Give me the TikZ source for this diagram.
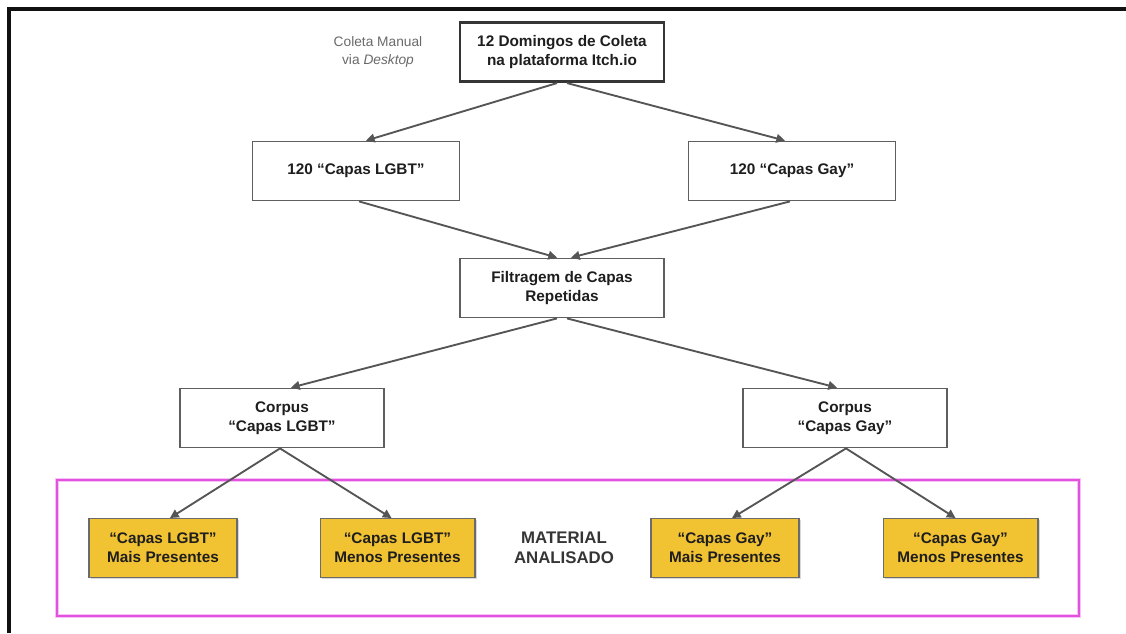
\documentclass[tikz,border=0pt]{standalone}
\usepackage{fontspec}
\setmainfont{Liberation Sans}
\usetikzlibrary{arrows.meta,calc,shadows}

\definecolor{framek}{HTML}{111111}
\definecolor{edgegray}{HTML}{5E5E5E}
\definecolor{linkgray}{HTML}{555555}
\definecolor{txtdark}{HTML}{1E1E1E}
\definecolor{notegray}{HTML}{6A6A6A}
\definecolor{capyellow}{HTML}{F1C232}
\definecolor{capedge}{HTML}{6B6B6B}
\definecolor{selmagenta}{RGB}{226,82,222}

\tikzset{
  boxtxt/.style={font=\fontsize{11.5}{14.2}\selectfont\bfseries, text=txtdark, align=center},
  stepbox/.style={boxtxt, draw=edgegray, line width=1.1pt, fill=white, inner sep=0pt,
                  minimum width=153pt, minimum height=44.5pt},
  headbox/.style={stepbox, draw=framek!85, line width=2.1pt},
  capbox/.style={boxtxt, draw=capedge, line width=1pt, fill=capyellow, inner sep=0pt,
                 minimum height=44pt,
                 drop shadow={opacity=0.3, shadow xshift=1.3pt, shadow yshift=-1.3pt}},
  link/.style={draw=linkgray, line width=1.4pt,
               -{Triangle[length=6.5pt,width=6.5pt]}},
}

\begin{document}
\begin{tikzpicture}[x=0.75pt,y=-0.75pt]
  \useasboundingbox (0,0) rectangle (1126,633);
  \fill[white] (0,0) rectangle (1126,633);

  % page frame (top and left edges)
  \draw[framek, line width=2.4pt] (9,633) -- (9,9) -- (1126,9);

  % collection step
  \node[headbox] (top) at (562,52) {12 Domingos de Coleta\\na plataforma Itch.io};
  \node[font=\fontsize{10.3}{13.5}\selectfont, text=notegray, align=center] (note) at (378,52)
       {Coleta Manual\\via \textit{Desktop}};

  % raw sets
  \node[stepbox, minimum width=155pt] (l120) at (356,171) {120 “Capas LGBT”};
  \node[stepbox, minimum width=155pt] (g120) at (792,171) {120 “Capas Gay”};

  % filtering
  \node[stepbox] (filt) at (562,288) {Filtragem de Capas\\Repetidas};

  % corpora
  \node[stepbox] (cl) at (282,418) {Corpus\\“Capas LGBT”};
  \node[stepbox] (cg) at (845,418) {Corpus\\“Capas Gay”};

  % analysed material frame
  \draw[selmagenta!35, line width=3.2pt] (57,480) rectangle (1079,616);
  \draw[selmagenta, line width=1.5pt] (57,480) rectangle (1079,616);

  \node[capbox, minimum width=111pt] (lm) at (163,548) {“Capas LGBT”\\Mais Presentes};
  \node[capbox, minimum width=116pt] (ln) at (397.5,548) {“Capas LGBT”\\Menos Presentes};
  \node[capbox, minimum width=111pt] (gm) at (725,548) {“Capas Gay”\\Mais Presentes};
  \node[capbox, minimum width=116pt] (gn) at (960.5,548) {“Capas Gay”\\Menos Presentes};

  \node[font=\fontsize{12.6}{14.6}\selectfont\bfseries, text=txtdark!90, align=center] (mat) at (564,548)
       {MATERIAL\\ANALISADO};

  % connectors
  \draw[link] ($(top.south)+(-5,0)$) -- ($(l120.north)+(10,0)$);
  \draw[link] ($(top.south)+(5,0)$) -- ($(g120.north)+(-7,0)$);
  \draw[link] ($(l120.south)+(3,0)$) -- ($(filt.north)+(-5,0)$);
  \draw[link] ($(g120.south)+(-2,0)$) -- ($(filt.north)+(9,0)$);
  \draw[link] ($(filt.south)+(-5,0)$) -- ($(cl.north)+(9,0)$);
  \draw[link] ($(filt.south)+(5,0)$) -- ($(cg.north)+(-8,0)$);
  \draw[link] ($(cl.south)+(-2,0)$) -- ($(lm.north)+(7,0)$);
  \draw[link] ($(cl.south)+(-2,0)$) -- ($(ln.north)+(-6,0)$);
  \draw[link] ($(cg.south)+(1,0)$) -- ($(gm.north)+(7,0)$);
  \draw[link] ($(cg.south)+(1,0)$) -- ($(gn.north)+(-5,0)$);
\end{tikzpicture}
\end{document}
